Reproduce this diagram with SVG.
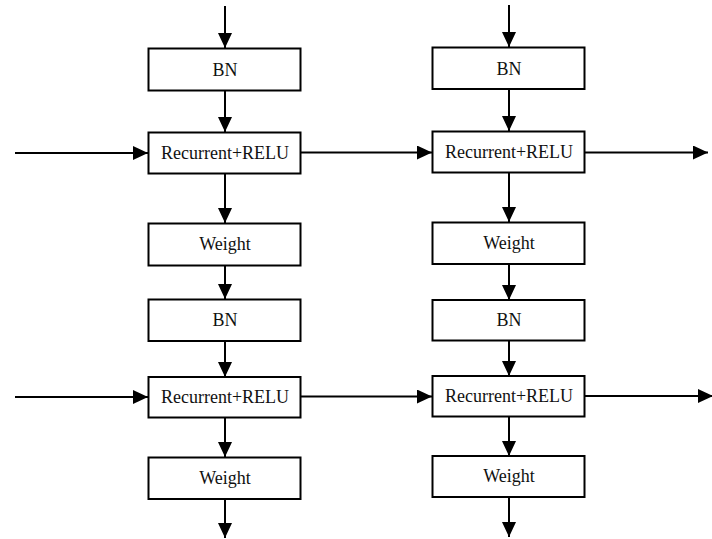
<svg xmlns="http://www.w3.org/2000/svg" width="712" height="539" viewBox="0 0 712 539">
<style>
.box{fill:#fff;stroke:#000;stroke-width:2}
.lbl{font-family:'Liberation Serif','DejaVu Serif',serif;font-size:18px;fill:#111;text-anchor:middle}
.con{stroke:#000;stroke-width:2;fill:none;marker-end:url(#ah)}
</style>
<defs>
<marker id="ah" markerUnits="userSpaceOnUse" markerWidth="16" markerHeight="14" refX="15" refY="7" orient="auto">
<path d="M0,0 L15,7 L0,14 Z" fill="#000"/>
</marker>
</defs>
<g id="connectors">
<line class="con" x1="225" y1="6" x2="225" y2="48"/>
<line class="con" x1="225" y1="91" x2="225" y2="132"/>
<line class="con" x1="225" y1="173" x2="225" y2="223"/>
<line class="con" x1="225" y1="265" x2="225" y2="299"/>
<line class="con" x1="225" y1="341" x2="225" y2="377"/>
<line class="con" x1="225" y1="418" x2="225" y2="457"/>
<line class="con" x1="225" y1="499" x2="225" y2="538"/>
<line class="con" x1="509" y1="5" x2="509" y2="47"/>
<line class="con" x1="509" y1="89" x2="509" y2="131"/>
<line class="con" x1="509" y1="173" x2="509" y2="222"/>
<line class="con" x1="509" y1="264" x2="509" y2="300"/>
<line class="con" x1="509" y1="341" x2="509" y2="376"/>
<line class="con" x1="509" y1="417" x2="509" y2="456"/>
<line class="con" x1="509" y1="497" x2="509" y2="537"/>
<line class="con" x1="15" y1="153" x2="148" y2="153"/>
<line class="con" x1="301" y1="152.5" x2="432" y2="152.5"/>
<line class="con" x1="585" y1="152.5" x2="708" y2="152.5"/>
<line class="con" x1="15" y1="397" x2="148" y2="397"/>
<line class="con" x1="301" y1="396.5" x2="432" y2="396.5"/>
<line class="con" x1="585" y1="396" x2="713" y2="396"/>
</g>
<g id="bn1_left"><rect class="box" x="148.5" y="48.5" width="152" height="42"/><text class="lbl" x="225" y="76">BN</text></g>
<g id="rec1_left"><rect class="box" x="148.5" y="132.5" width="152" height="41"/><text class="lbl" x="225" y="159">Recurrent+RELU</text></g>
<g id="weight1_left"><rect class="box" x="148.5" y="223.5" width="152" height="42"/><text class="lbl" x="225" y="250">Weight</text></g>
<g id="bn2_left"><rect class="box" x="148.5" y="299.5" width="152" height="41.5"/><text class="lbl" x="225" y="326">BN</text></g>
<g id="rec2_left"><rect class="box" x="148.5" y="377" width="152" height="40.5"/><text class="lbl" x="225" y="403">Recurrent+RELU</text></g>
<g id="weight2_left"><rect class="box" x="148.5" y="457.5" width="152" height="41.5"/><text class="lbl" x="225" y="484">Weight</text></g>
<g id="bn1_right"><rect class="box" x="432.5" y="47.5" width="152" height="41.5"/><text class="lbl" x="509" y="75">BN</text></g>
<g id="rec1_right"><rect class="box" x="432.5" y="131.5" width="152" height="41"/><text class="lbl" x="509" y="158">Recurrent+RELU</text></g>
<g id="weight1_right"><rect class="box" x="432.5" y="222.5" width="152" height="41.5"/><text class="lbl" x="509" y="249">Weight</text></g>
<g id="bn2_right"><rect class="box" x="432.5" y="300" width="152" height="40.5"/><text class="lbl" x="509" y="326">BN</text></g>
<g id="rec2_right"><rect class="box" x="432.5" y="376" width="152" height="40.5"/><text class="lbl" x="509" y="402">Recurrent+RELU</text></g>
<g id="weight2_right"><rect class="box" x="432.5" y="456" width="152" height="41"/><text class="lbl" x="509" y="482">Weight</text></g>
</svg>
